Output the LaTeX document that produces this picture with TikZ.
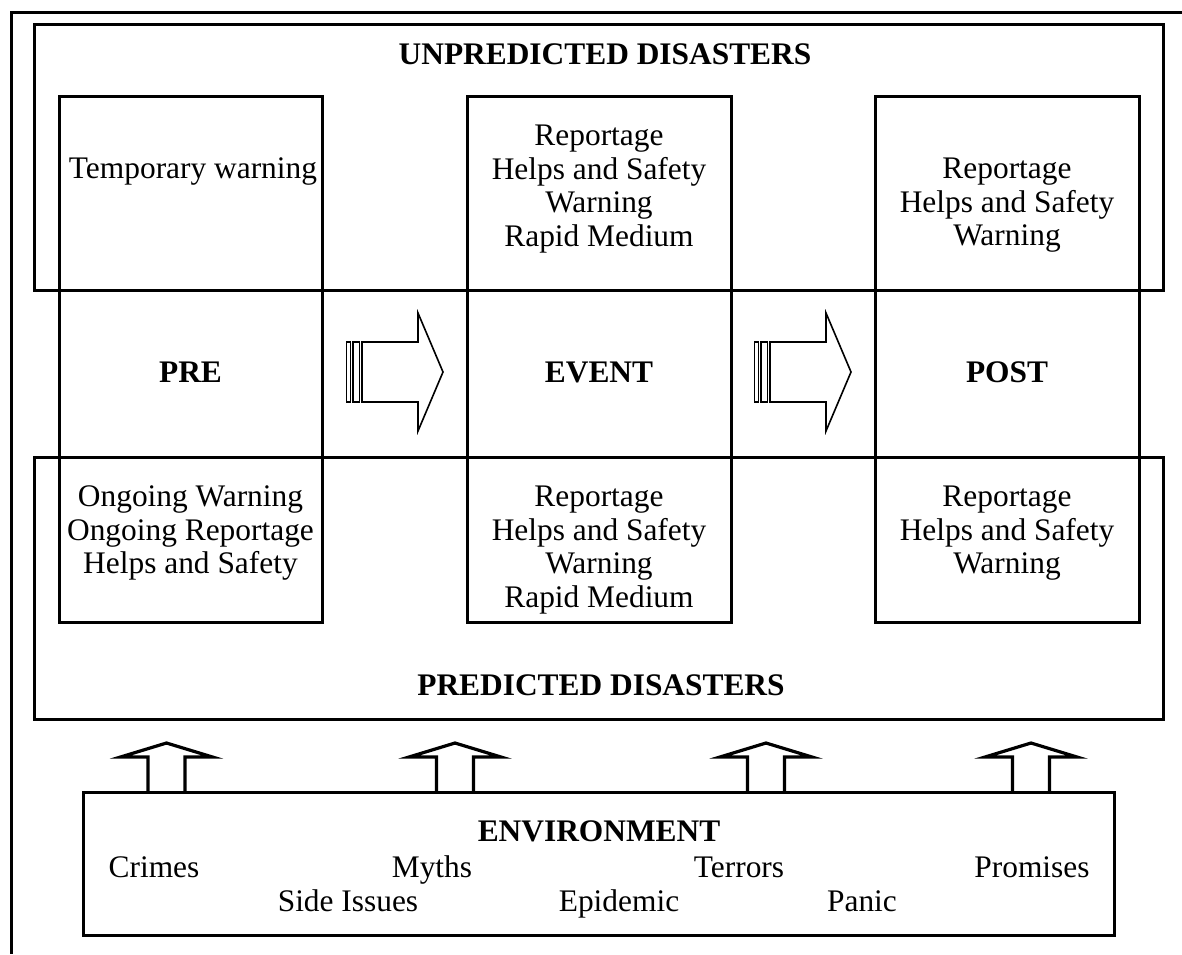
\documentclass[tikz,border=0pt]{standalone}
\usepackage{fontspec}
\setmainfont{Liberation Serif}
\newcommand\ls{\rule[-10pt]{0pt}{33.7pt}}
\begin{document}
\begin{tikzpicture}[x=1pt,y=-1pt,line width=3pt,
  box/.style={draw,line width=3pt,inner sep=0pt,outer sep=0pt},
  txt/.style={inner sep=0pt,font=\fontsize{31.4}{33.7}\selectfont,align=center},
  btxt/.style={txt,font=\fontsize{31.4}{33.7}\selectfont\bfseries},
  blockarrow/.style={draw,line width=1.6pt,line join=miter},
  uparrow/.style={draw,line width=3.2pt,line join=miter}]
\useasboundingbox (0,0) rectangle (1182,954);
% outer open frame
\coordinate (frR) at (1182,12);
\coordinate (frC) at (11,12);
\coordinate (frB) at (11,954);
\draw (frR) -- (frC) -- (frB);
% big boxes
\node[box,minimum width=1128.5pt,minimum height=265.5pt] (unpred) at (598.75,157.25) {};
\node[box,minimum width=1128.5pt,minimum height=262pt] (pred) at (598.75,588) {};
\node[box,minimum width=263pt,minimum height=525.5pt] (pre) at (190.5,359.25) {};
\node[box,minimum width=264pt,minimum height=525.5pt] (event) at (599,359.25) {};
\node[box,minimum width=264pt,minimum height=525.5pt] (post) at (1007,359.25) {};
\node[box,minimum width=1030.5pt,minimum height=143.5pt] (env) at (598.75,863.75) {};
% titles
\node[btxt,anchor=base] (tU) at (605,64) {UNPREDICTED DISASTERS};
\node[btxt,anchor=base] (tP) at (601,695) {PREDICTED DISASTERS};
% top texts
\node[txt,anchor=north] (preTop) at (193,153.3) {\ls Temporary warning};
\node[txt,anchor=north] (evTop) at (599,120.3) {\ls Reportage\\\ls Helps and Safety\\\ls Warning\\\ls Rapid Medium};
\node[txt,anchor=north] (poTop) at (1007,153.3) {\ls Reportage\\\ls Helps and Safety\\\ls Warning};
% middle labels
\node[btxt,anchor=base] (lPre) at (190.5,382) {PRE};
\node[btxt,anchor=base] (lEv) at (599,382) {EVENT};
\node[btxt,anchor=base] (lPo) at (1007,382) {POST};
% bottom texts
\node[txt,anchor=north] (preBot) at (190.5,481.3) {\ls Ongoing Warning\\\ls Ongoing Reportage\\\ls Helps and Safety};
\node[txt,anchor=north] (evBot) at (599,481.3) {\ls Reportage\\\ls Helps and Safety\\\ls Warning\\\ls Rapid Medium};
\node[txt,anchor=north] (poBot) at (1007,481.3) {\ls Reportage\\\ls Helps and Safety\\\ls Warning};
% environment
\node[btxt,anchor=base] (envT) at (599,841) {ENVIRONMENT};
\node[txt,anchor=base] (e1) at (154,877) {Crimes};
\node[txt,anchor=base] (e2) at (432,877) {Myths};
\node[txt,anchor=base] (e3) at (739,877) {Terrors};
\node[txt,anchor=base] (e4) at (1032,877) {Promises};
\node[txt,anchor=base] (e5) at (348,911) {Side Issues};
\node[txt,anchor=base] (e6) at (619,911) {Epidemic};
\node[txt,anchor=base] (e7) at (862,911) {Panic};
% striped block arrows
\foreach \dx in {0,408}{
  \begin{scope}[xshift=\dx pt]
    \draw[blockarrow] (346.5,342) rectangle (350.5,402);
    \draw[blockarrow] (353,342) rectangle (359.5,402);
    \draw[blockarrow] (362,342) -- (418,342) -- (418,313) -- (443,372) -- (418,431) -- (418,402) -- (362,402) -- cycle;
  \end{scope}
}
% up arrows
\foreach \cx in {166.5,455,766,1031}{
  \draw[uparrow] (\cx-18.5,792) -- (\cx-18.5,757) -- (\cx-46,757) -- (\cx,743) -- (\cx+46,757) -- (\cx+18.5,757) -- (\cx+18.5,792);
}
\end{tikzpicture}
\end{document}
